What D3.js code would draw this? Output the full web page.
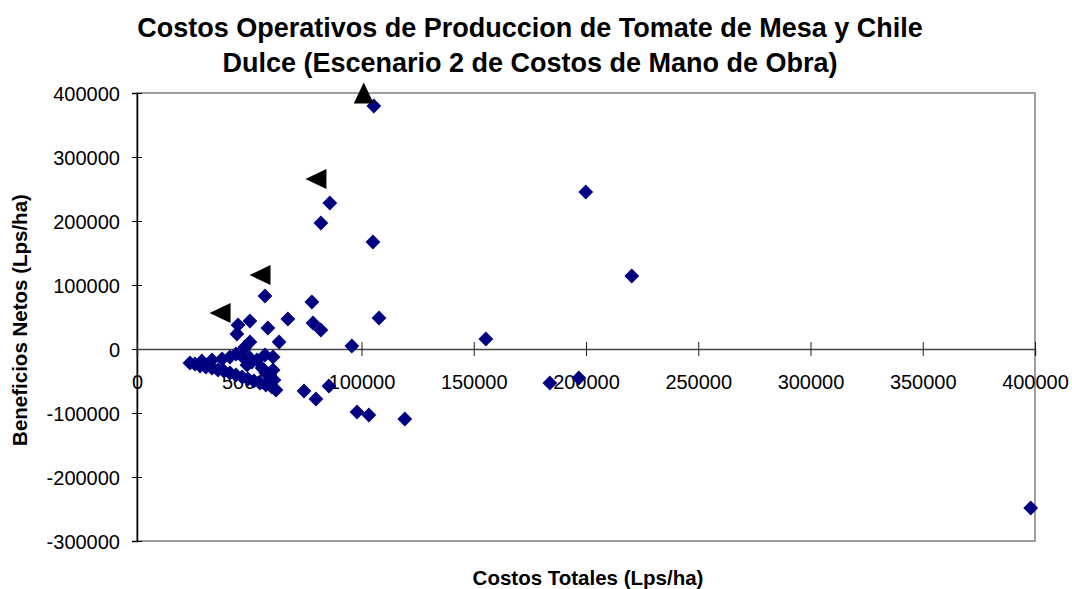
<!DOCTYPE html>
<html>
<head>
<meta charset="utf-8">
<script src="https://cdn.jsdelivr.net/npm/d3@7"></script>
<style>
  body { margin: 0; background: #fff; }
  svg text { font-family: "Liberation Sans", Arial, sans-serif; }
</style>
</head>
<body>
<div id="graph"></div>
<script>
// Costos totales (x) y beneficios netos (y), serie de rombos
var costos = [
    398100, 220400, 199900, 105500, 85900, 81900, 105100, 57000, 77900, 107800,
    78400, 81900, 67200, 95700, 155400, 183900, 196800, 119300, 103300, 98000,
    85500, 79700, 74400,
    45000, 50300, 58300, 44500, 50300, 63300, 47200, 53400, 60600, 60600,
    49000, 57000, 50300, 48100,
    23600, 25800, 28100, 30700, 33400, 36100, 38700, 41400, 44100, 46800,
    49400, 52100, 54800, 57400, 60100, 61900,
    28900, 33400, 37900, 41400, 44100, 47600, 51200, 55700, 59200, 61000, 57400
];
var beneficios = [
    -248400, 114000, 245300, 379700, 228100, 196900, 167200, 82800, 73400, 48400,
    40600, 29700, 46900, 4700, 15600, -53100, -45300, -109400, -103100, -98400,
    -57800, -78100, -65600,
    37500, 43700, 32800, 23400, 10900, 10900, -1600, -17200, -12500, -32800,
    -25000, -9400, -14100, 3100,
    -21900, -23400, -26600, -28100, -29700, -32800, -34400, -37500, -40600, -43800,
    -46900, -50000, -53100, -56300, -59400, -64100,
    -18800, -17200, -15600, -12500, -7800, -14100, -20300, -29700, -40600, -48400, -37500
];

// Serie de triangulos negros
var triX   = [ 101000, 79700, 54800, 37000 ];
var triY   = [ 400000, 265600, 115600, 56300 ];
var triDir = [ 'up', 'left', 'left', 'left' ];

var xTicks = [ 0, 50000, 100000, 150000, 200000, 250000, 300000, 350000, 400000 ];
var yTicks = [ 400000, 300000, 200000, 100000, 0, -100000, -200000, -300000 ];

var titleLines = [ 'Costos Operativos de Produccion de Tomate de Mesa y Chile',
                   'Dulce (Escenario 2 de Costos de Mano de Obra)' ];
var xTitle = 'Costos Totales (Lps/ha)';
var yTitle = 'Beneficios Netos (Lps/ha)';

var overallWidth  = 1072;
var overallHeight = 589;

// Plot area
var plot = { left: 137, right: 1035, top: 93, bottom: 541 };

var svg = d3.select('#graph').append('svg')
            .attr('width', overallWidth)
            .attr('height', overallHeight);

var x = d3.scaleLinear().domain([0, 400000]).range([plot.left, plot.right]);
var y = d3.scaleLinear().domain([-300000, 400000]).range([plot.bottom, plot.top]);

// plain integers with ascii hyphen, like Excel
var fmt = function (d) { return String(d); };

// plot area border
svg.append('rect')
   .attr('x', plot.left).attr('y', plot.top)
   .attr('width', plot.right - plot.left).attr('height', plot.bottom - plot.top)
   .attr('fill', 'none').attr('stroke', '#808080').attr('stroke-width', 1.5);

// y axis
var yAxis = svg.append('g')
               .attr('transform', 'translate(' + x(0) + ',0)')
               .call(d3.axisLeft(y).tickValues(yTicks).tickSize(5).tickFormat(fmt));
yAxis.select('.domain').attr('stroke', '#000').attr('stroke-width', 1.5);
yAxis.selectAll('.tick line').attr('x1', 5).attr('x2', -5).attr('stroke', '#000');
yAxis.selectAll('.tick text').attr('x', -17).attr('dy', '0.35em')
     .style('font-size', '20px').attr('fill', '#000');

// x axis at y = 0
var xAxis = svg.append('g')
               .attr('transform', 'translate(0,' + y(0) + ')')
               .call(d3.axisBottom(x).tickValues(xTicks).tickSize(7).tickFormat(fmt));
xAxis.select('.domain').attr('stroke', '#444').attr('stroke-width', 1.5);
xAxis.selectAll('.tick line').attr('y1', -7).attr('y2', 7).attr('stroke', '#222');
xAxis.selectAll('.tick text').attr('y', 33).attr('dy', '0.35em')
     .style('font-size', '20px').attr('fill', '#000');

// rombos
var pts = d3.range(costos.length).map(function (i) { return [costos[i], beneficios[i]]; });
var diamond = d3.symbol().type(d3.symbolSquare).size(110);
svg.append('g').selectAll('path')
   .data(pts)
   .enter().append('path')
   .attr('d', diamond)
   .attr('fill', '#000080')
   .attr('transform', function (d) { return 'translate(' + x(d[0]) + ',' + y(d[1]) + ')rotate(45)'; });

// triangulos
var triPath = 'M0,-10.5L10,10.5L-10,10.5Z';
svg.append('g').selectAll('path')
   .data(d3.range(triX.length))
   .enter().append('path')
   .attr('d', triPath)
   .attr('fill', '#000')
   .attr('transform', function (i) {
       var r = triDir[i] == 'left' ? -90 : 0;
       return 'translate(' + x(triX[i]) + ',' + y(triY[i]) + ')rotate(' + r + ')';
   });

// titulo
svg.selectAll('.title')
   .data(titleLines)
   .enter().append('text')
   .attr('class', 'title')
   .attr('x', 530)
   .attr('y', function (d, i) { return 37 + i * 35; })
   .attr('text-anchor', 'middle')
   .style('font-size', '27px').style('font-weight', 'bold')
   .text(function (d) { return d; });

svg.append('text')
   .attr('x', 588).attr('y', 585)
   .attr('text-anchor', 'middle')
   .style('font-size', '20.5px').style('font-weight', 'bold')
   .text(xTitle);

svg.append('text')
   .attr('transform', 'translate(27,320)rotate(-90)')
   .attr('text-anchor', 'middle')
   .style('font-size', '20.5px').style('font-weight', 'bold')
   .text(yTitle);
</script>
</body>
</html>
